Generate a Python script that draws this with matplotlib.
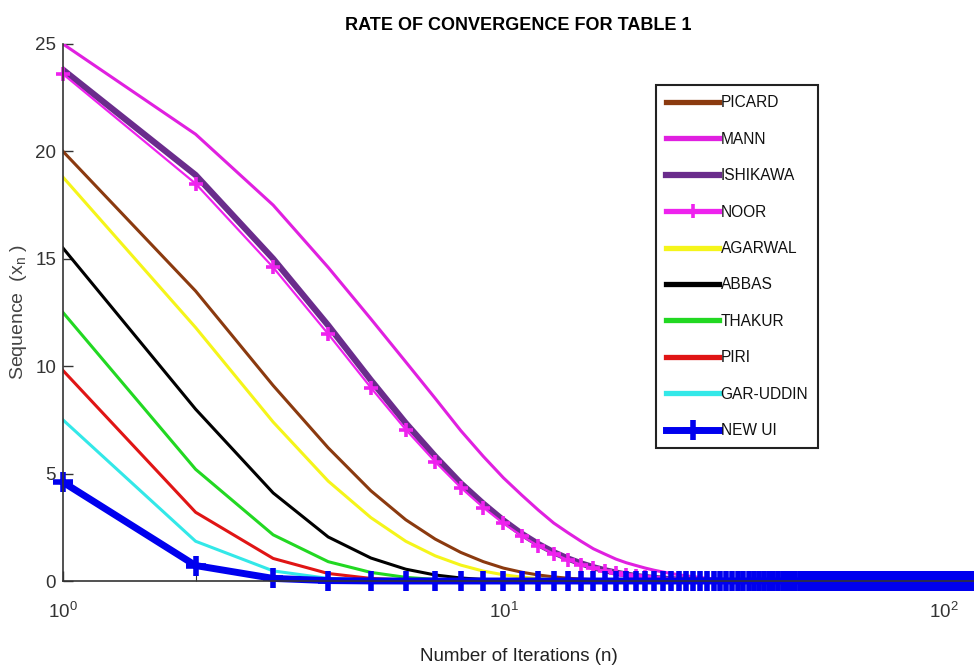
import matplotlib
matplotlib.use('Agg')
import matplotlib.pyplot as plt
import numpy as np
from matplotlib.ticker import LogLocator, FixedLocator

plt.rcParams['font.family'] = ['Liberation Sans', 'DejaVu Sans']

# Iteration numbers (n)
n_iter = np.arange(1, 121)

# Sequence values (values not listed are ~0)
picard = [20.0, 13.5, 9.1, 6.2, 4.2, 2.85, 1.95, 1.33, 0.9, 0.6, 0.41, 0.28, 0.19,
          0.13, 0.09, 0.06, 0.04, 0.03, 0.02, 0.01]
mann = [25.0, 20.8, 17.5, 14.6, 12.2, 10.2, 8.5, 7.0, 5.8, 4.8, 4.0, 3.3, 2.7, 2.25,
        1.85, 1.5, 1.25, 1.02, 0.85, 0.72, 0.6, 0.5, 0.42, 0.35, 0.29, 0.24, 0.2,
        0.16, 0.13, 0.1, 0.08, 0.06, 0.05, 0.04, 0.03, 0.02, 0.015, 0.01]
ishikawa = [23.8, 18.9, 15.0, 11.9, 9.35, 7.35, 5.8, 4.55, 3.6, 2.82, 2.2, 1.72, 1.34,
            1.05, 0.82, 0.64, 0.5, 0.39, 0.3, 0.23, 0.18, 0.14, 0.11, 0.085, 0.066,
            0.05, 0.04, 0.03, 0.024, 0.018, 0.012, 0.008]
noor = [23.6, 18.5, 14.6, 11.5, 9.0, 7.05, 5.55, 4.35, 3.42, 2.68, 2.1, 1.63, 1.27,
        0.98, 0.76, 0.59, 0.46, 0.36, 0.28, 0.22, 0.17, 0.13, 0.1, 0.08, 0.06, 0.046,
        0.036, 0.028, 0.022, 0.017, 0.012, 0.008]
agarwal = [18.8, 11.8, 7.4, 4.65, 2.95, 1.85, 1.17, 0.74, 0.46, 0.29, 0.18, 0.11,
           0.07, 0.045, 0.03, 0.02, 0.01]
abbas = [15.5, 8.0, 4.1, 2.05, 1.07, 0.55, 0.28, 0.14, 0.07, 0.04, 0.02, 0.01]
thakur = [12.5, 5.2, 2.15, 0.9, 0.4, 0.17, 0.07, 0.03, 0.01]
piri = [9.8, 3.2, 1.05, 0.35, 0.12, 0.04, 0.013, 0.004]
gar_uddin = [7.5, 1.85, 0.47, 0.12, 0.03, 0.008]
new_ui = [4.6, 0.72, 0.12, 0.02, 0.003]

nomes = ['PICARD', 'MANN', 'ISHIKAWA', 'NOOR', 'AGARWAL', 'ABBAS', 'THAKUR',
         'PIRI', 'GAR-UDDIN', 'NEW UI']
series = [picard, mann, ishikawa, noor, agarwal, abbas, thakur, piri, gar_uddin, new_ui]


def completar(valores):
    return np.array(valores + [0.0] * (len(n_iter) - len(valores)))


estilos = {
    'PICARD': dict(color='#8B3A0F', lw=2.2),
    'MANN': dict(color='#E020E0', lw=2.2),
    'ISHIKAWA': dict(color='#6A2C8C', lw=4.5),
    'NOOR': dict(color='#EE22EE', lw=1.6, marker='+', ms=10, mew=2.6, clip_on=False),
    'AGARWAL': dict(color='#F5F51A', lw=2.2),
    'ABBAS': dict(color='black', lw=2.2),
    'THAKUR': dict(color='#22D822', lw=2.2),
    'PIRI': dict(color='#E01515', lw=2.2),
    'GAR-UDDIN': dict(color='#33E8E8', lw=2.2),
    'NEW UI': dict(color='#0000EE', lw=5, marker='+', ms=14.5, mew=4, clip_on=False),
}

fig = plt.figure(figsize=(9.74, 6.70), dpi=100)
ax = fig.add_axes([63 / 974, 89 / 670, 911 / 974, 537 / 670])

for nome, valores in zip(nomes, series):
    ax.plot(n_iter, completar(valores), label=nome, **estilos[nome])

ax.set_xscale('log')
ax.set_xlim(1, 117)
ax.set_ylim(0, 25)
ax.set_yticks([0, 5, 10, 15, 20, 25])
ax.xaxis.set_major_locator(FixedLocator([1, 10, 100]))
ax.xaxis.set_minor_locator(LogLocator(base=10, subs=np.arange(2, 10)))

for lado in ['top', 'right']:
    ax.spines[lado].set_visible(False)
for lado in ['left', 'bottom']:
    ax.spines[lado].set_color('#333333')
    ax.spines[lado].set_linewidth(1.2)

ax.tick_params(which='major', direction='in', length=7, width=1, colors='#333333',
               labelsize=13.5)
ax.tick_params(which='minor', direction='in', length=4, width=0.8, colors='#333333')
ax.tick_params(axis='x', which='major', pad=15)
ax.tick_params(axis='y', pad=5)

ax.set_title('RATE OF CONVERGENCE FOR TABLE 1', fontsize=13, fontweight='bold', pad=10)
ax.set_xlabel('Number of Iterations (n)', fontsize=13.5, color='#222222', labelpad=19)
ax.set_ylabel('Sequence  (x$_\\mathregular{n}$ )', fontsize=14, color='#444444', labelpad=4)

leg = ax.legend(loc='upper left', bbox_to_anchor=(656 / 974, 1 - 85 / 670),
                bbox_transform=fig.transFigure, borderaxespad=0, fontsize=11.2,
                handlelength=3.4, handletextpad=0.1, labelspacing=1.38,
                borderpad=0.65, fancybox=False, framealpha=1, edgecolor='#222222')
leg.get_frame().set_linewidth(1.5)
for texto in leg.get_texts():
    texto.set_color('#111111')
for linha in leg.get_lines():
    linha.set_linewidth(max(linha.get_linewidth(), 3.8))

fig.savefig('out.png', dpi=100)
